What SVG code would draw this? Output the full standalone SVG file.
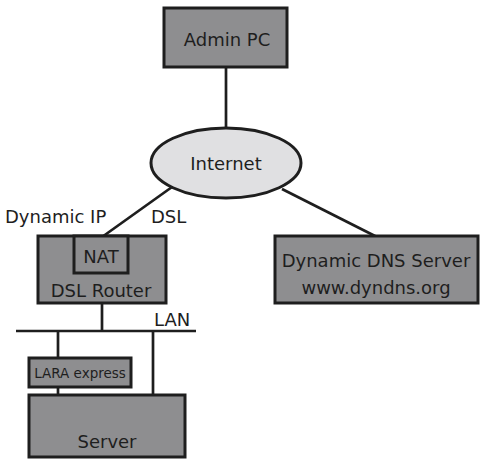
<svg xmlns="http://www.w3.org/2000/svg" width="485" height="460" viewBox="0 0 485 460">
<style>
.box{fill:#8e8e90;stroke:#1e1e1e;stroke-width:3}
.ell{fill:#e0e0e2;stroke:#1e1e1e;stroke-width:3}
.ln{stroke:#1e1e1e;stroke-width:2.7;fill:none}
text{font-family:"DejaVu Sans",sans-serif;font-size:18px;fill:#1e1e1e}
.c{text-anchor:middle}
.s{font-size:13.5px}
</style>
<rect width="485" height="460" fill="#ffffff"/>
<g id="connectors">
<line class="ln" x1="226" y1="67" x2="226" y2="129"/>
<line class="ln" x1="172" y1="187" x2="102" y2="237"/>
<line class="ln" x1="282" y1="189" x2="377" y2="237"/>
<line class="ln" x1="102" y1="303" x2="102" y2="331"/>
<line class="ln" x1="16" y1="331" x2="196" y2="331"/>
<line class="ln" x1="58" y1="331" x2="58" y2="358"/>
<line class="ln" x1="58" y1="387" x2="58" y2="395"/>
<line class="ln" x1="153" y1="331" x2="153" y2="395"/>
</g>
<g id="admin-pc">
<rect class="box" x="164" y="8" width="123" height="59"/>
<text class="c" x="227" y="46">Admin PC</text>
</g>
<g id="internet">
<ellipse class="ell" cx="226" cy="163" rx="75" ry="35"/>
<text class="c" x="226" y="170">Internet</text>
</g>
<g id="labels">
<text x="5" y="223">Dynamic IP</text>
<text x="151" y="223">DSL</text>
<text x="154" y="326">LAN</text>
</g>
<g id="dsl-router">
<rect class="box" x="38" y="236" width="128" height="67"/>
<rect class="box" x="74" y="236" width="54" height="37"/>
<text class="c" x="101" y="263">NAT</text>
<text class="c" x="101" y="297">DSL Router</text>
</g>
<g id="dyndns">
<rect class="box" x="275" y="236" width="203" height="67"/>
<text class="c" x="376" y="267">Dynamic DNS Server</text>
<text class="c" x="376" y="294">www.dyndns.org</text>
</g>
<g id="lara">
<rect class="box" x="29" y="358" width="102" height="29"/>
<text class="c s" x="80" y="378">LARA express</text>
</g>
<g id="server">
<rect class="box" x="29" y="395" width="156" height="62"/>
<text class="c" x="107" y="448">Server</text>
</g>
</svg>
